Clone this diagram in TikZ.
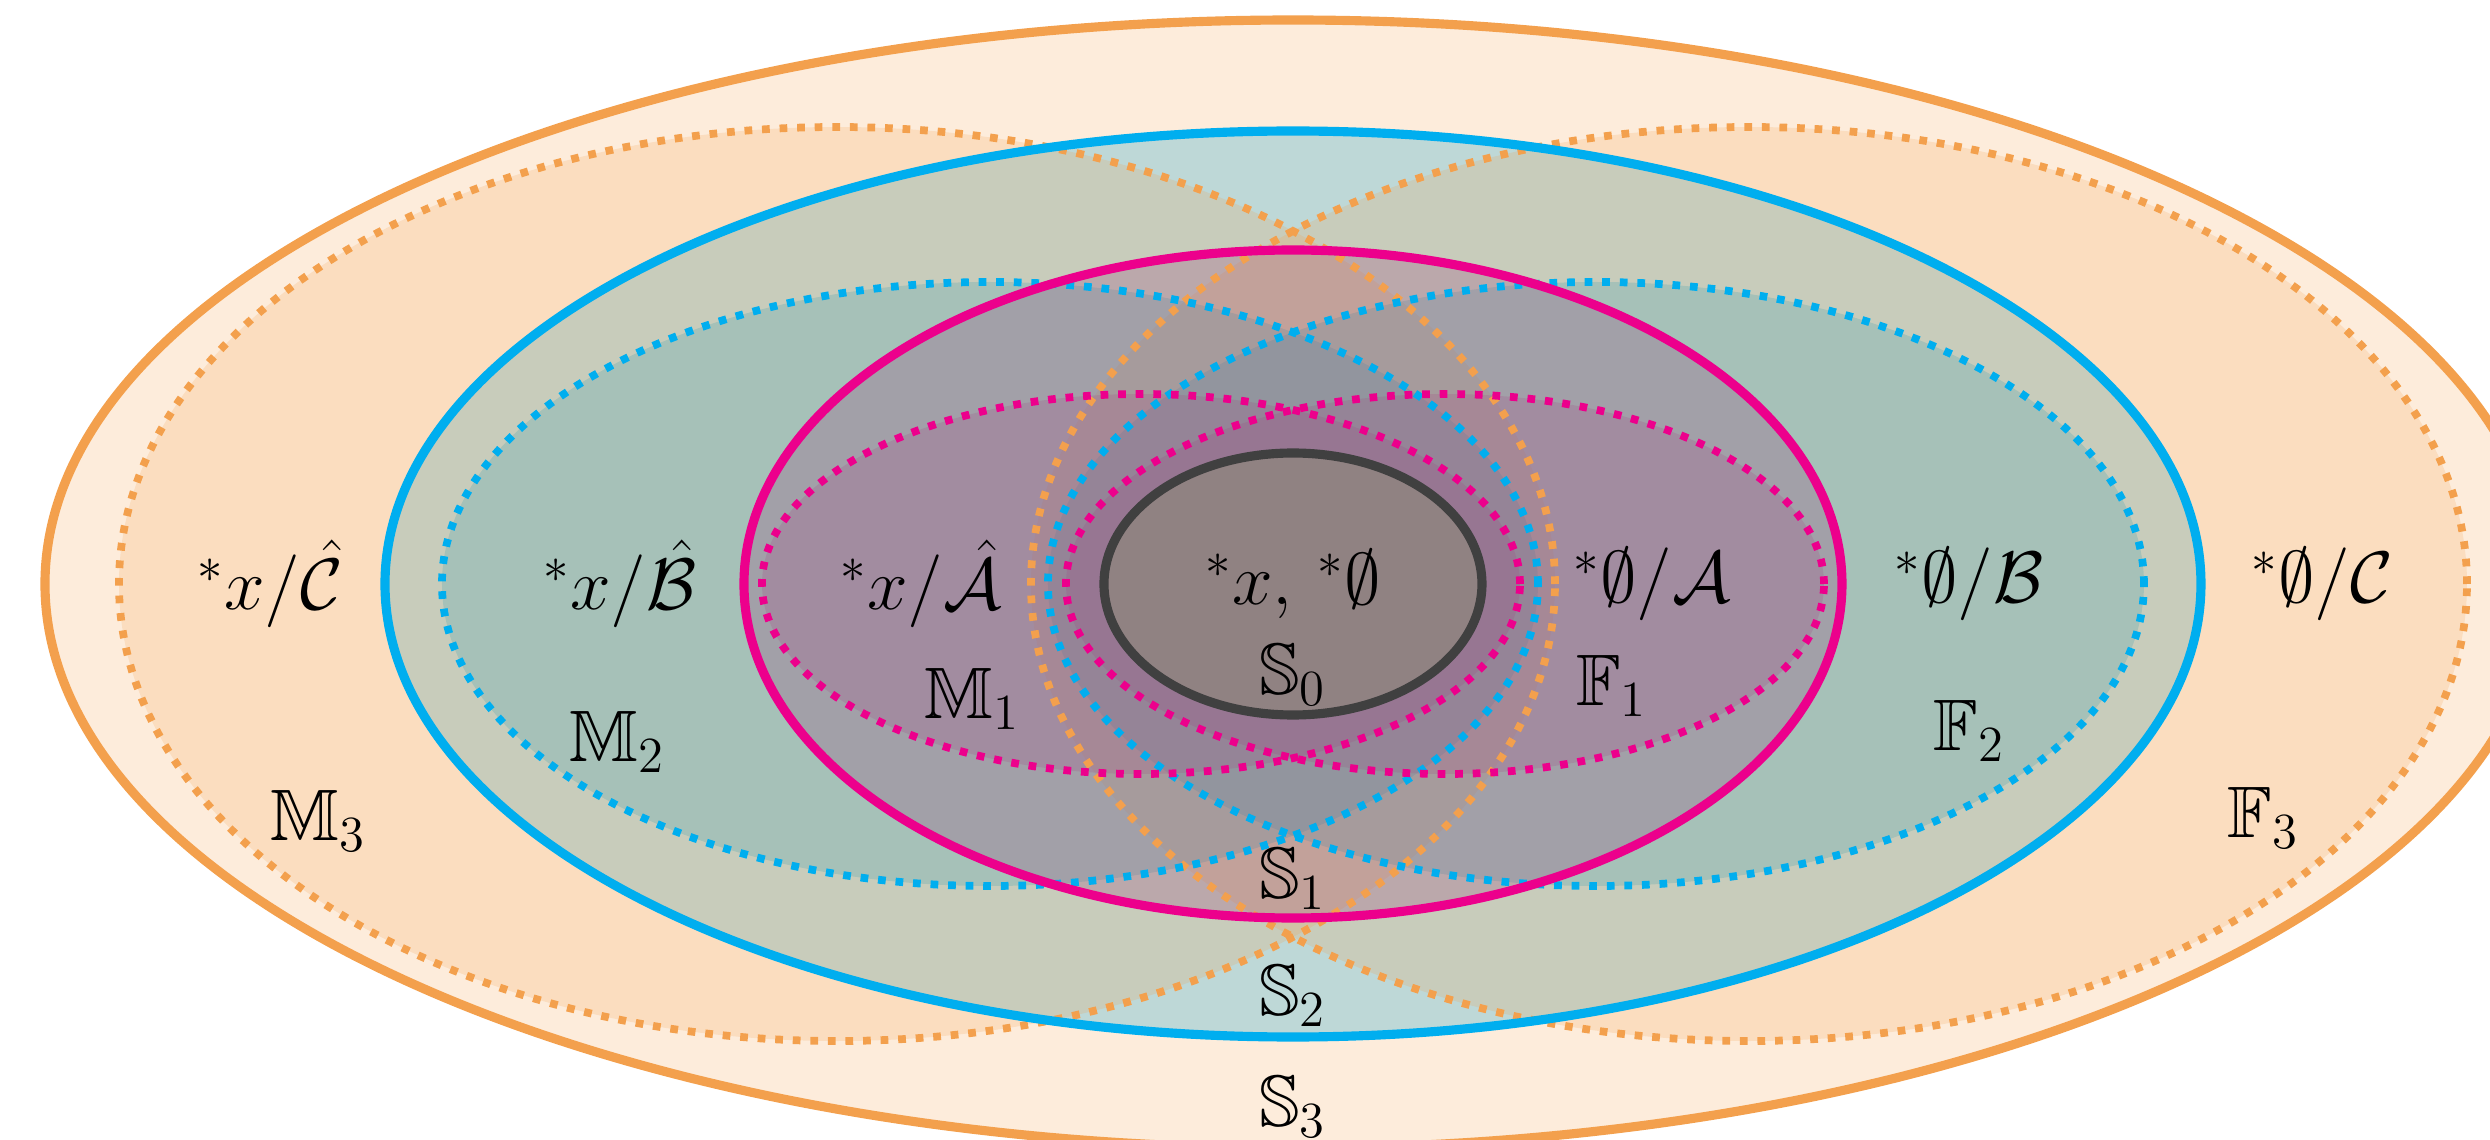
\documentclass[tikz,border=0pt]{standalone}
\usepackage{amsmath,amssymb}
\definecolor{setOrange}{RGB}{243,160,77}
\definecolor{setBlue}{RGB}{0,174,239}
\definecolor{setMagenta}{RGB}{236,0,140}
\definecolor{setGray}{RGB}{64,64,64}
\definecolor{fillBlue}{RGB}{4,156,204}
\definecolor{fillBlueDot}{RGB}{63,158,177}
\definecolor{fillMagenta}{RGB}{152,63,123}
\definecolor{fillMagentaDot}{RGB}{164,64,128}
\definecolor{fillCore}{RGB}{130,160,95}

\begin{document}
\begin{tikzpicture}[
  font=\huge,
  ring/.style={line width=2.6pt},
  dotring/.style={line width=2.2pt, dash pattern=on 2.2pt off 2.8pt},
  lbl/.style={inner sep=0pt}
]
\useasboundingbox (-12.93,-5.56) rectangle (11.97,5.84);

% fills, outer to inner
\fill[setOrange, fill opacity=0.2] (0,0) ellipse [x radius=12.48, y radius=5.64];
\fill[fillBlue, fill opacity=0.25] (0,0) ellipse [x radius=9.08, y radius=4.53];
\foreach \s in {-1,1}
  \fill[setOrange, fill opacity=0.2] (\s*4.56,0) ellipse [x radius=7.18, y radius=4.57];
\foreach \s in {-1,1}
  \fill[fillBlueDot, fill opacity=0.25] (\s*3.03,0) ellipse [x radius=5.48, y radius=3.02];
\fill[fillMagenta, fill opacity=0.25] (0,0) ellipse [x radius=5.49, y radius=3.34];
\foreach \s in {-1,1}
  \fill[fillMagentaDot, fill opacity=0.2] (\s*1.52,0) ellipse [x radius=3.79, y radius=1.90];
\fill[fillCore, fill opacity=0.3] (0,0) ellipse [x radius=1.89, y radius=1.31];

% outlines
\draw[ring, setOrange] (0,0) ellipse [x radius=12.48, y radius=5.64];
\foreach \s in {-1,1}
  \draw[dotring, setOrange] (\s*4.56,0) ellipse [x radius=7.18, y radius=4.57];
\draw[ring, setBlue] (0,0) ellipse [x radius=9.08, y radius=4.53];
\foreach \s in {-1,1}
  \draw[dotring, setBlue] (\s*3.03,0) ellipse [x radius=5.48, y radius=3.02];
\draw[ring, setMagenta] (0,0) ellipse [x radius=5.49, y radius=3.34];
\foreach \s in {-1,1}
  \draw[dotring, setMagenta] (\s*1.52,0) ellipse [x radius=3.79, y radius=1.90];
\draw[ring, setGray] (0,0) ellipse [x radius=1.89, y radius=1.31];

% labels
\node[lbl] (core) at (0,0)      {${}^{*}x,\,{}^{*}\emptyset$};
\node[lbl] (xA)   at (-3.72,0)  {${}^{*}x/\hat{\mathcal{A}}$};
\node[lbl] (xB)   at (-6.73,0)  {${}^{*}x/\hat{\mathcal{B}}$};
\node[lbl] (xC)   at (-10.23,0) {${}^{*}x/\hat{\mathcal{C}}$};
\node[lbl] (eA)   at (3.59,0)   {${}^{*}\emptyset/\mathcal{A}$};
\node[lbl] (eB)   at (6.76,0)   {${}^{*}\emptyset/\mathcal{B}$};
\node[lbl] (eC)   at (10.29,0)  {${}^{*}\emptyset/\mathcal{C}$};

\node[lbl] (S0) at (0,-0.91)     {$\mathbb{S}_0$};
\node[lbl] (S1) at (0,-2.95)     {$\mathbb{S}_1$};
\node[lbl] (S2) at (0,-4.12)     {$\mathbb{S}_2$};
\node[lbl] (S3) at (0,-5.23)     {$\mathbb{S}_3$};
\node[lbl] (M1) at (-3.21,-1.15) {$\mathbb{M}_1$};
\node[lbl] (M2) at (-6.76,-1.58) {$\mathbb{M}_2$};
\node[lbl] (M3) at (-9.75,-2.37) {$\mathbb{M}_3$};
\node[lbl] (F1) at (3.19,-1.02)  {$\mathbb{F}_1$};
\node[lbl] (F2) at (6.76,-1.47)  {$\mathbb{F}_2$};
\node[lbl] (F3) at (9.70,-2.34)  {$\mathbb{F}_3$};
\end{tikzpicture}
\end{document}
